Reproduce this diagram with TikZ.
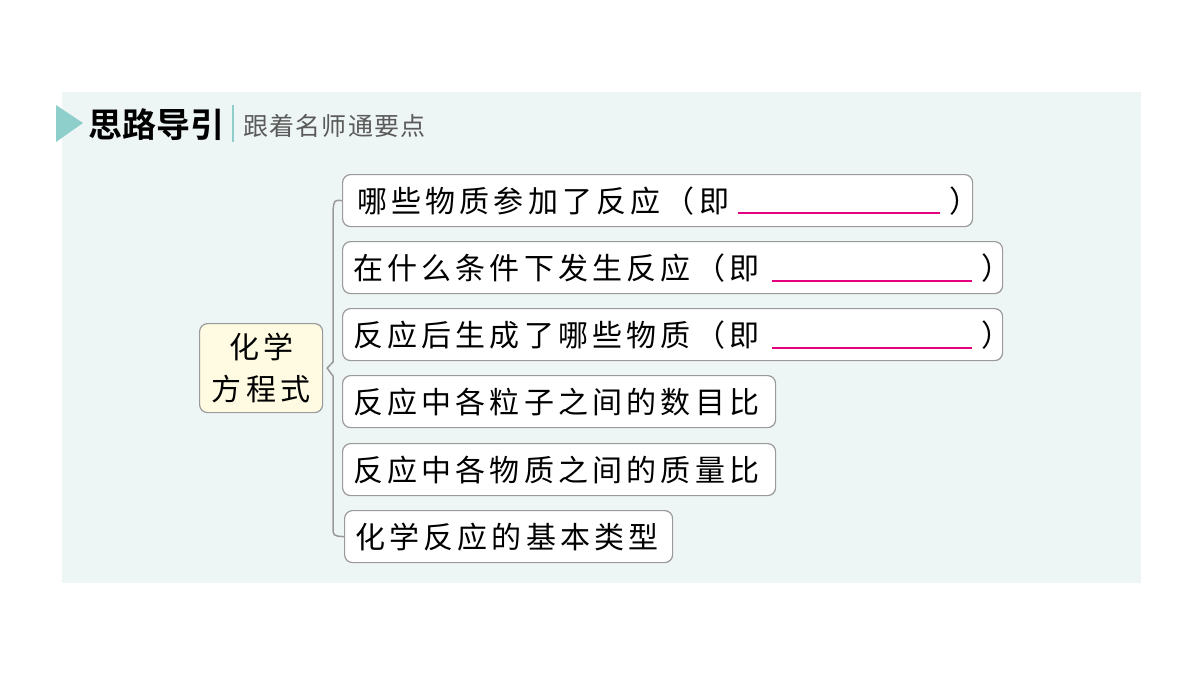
\documentclass[tikz,border=0pt]{standalone}
\usepackage{fontspec}
\newfontfamily\cjk{Noto Sans CJK SC}
\newfontfamily\cjksp[LetterSpace=14]{Noto Sans CJK SC}
\newfontfamily\cjkhd[LetterSpace=5]{Noto Sans CJK SC}
\newfontfamily\cjkbold{Noto Sans CJK SC Bold}
\definecolor{panel}{HTML}{EEF6F5}
\definecolor{teal}{HTML}{8ECFCB}
\definecolor{boxline}{HTML}{9A9A9A}
\definecolor{cream}{HTML}{FEFBE2}
\definecolor{blank}{HTML}{E4007F}
\definecolor{subgray}{HTML}{5A5A5A}
\tikzset{
  itembox/.style={draw=boxline, line width=1.2pt, fill=white, rounded corners=8pt,
    minimum height=52pt, inner sep=0pt, anchor=north west},
  itemtxt/.style={anchor=west, inner sep=0pt, font=\cjksp\fontsize{30}{30}\selectfont},
  brk/.style={draw=boxline, line width=1.5pt},
  blankln/.style={draw=blank, line width=2.2pt},
}
\begin{document}
\begin{tikzpicture}[x=1pt,y=-1pt]
\useasboundingbox (0,0) rectangle (1200,675);
\fill[white] (0,0) rectangle (1200,675);
\fill[panel] (62,92) rectangle (1141,583);
% header
\fill[teal] (56,105) -- (83,123) -- (56,142) -- cycle;
\node[anchor=west, inner sep=0pt, font=\cjkbold\fontsize{34}{34}\selectfont] (hd) at (88,125) {思路导引};
\coordinate (v1) at (233,105);
\coordinate (v2) at (233,142);
\draw[teal, line width=2pt] (v1) -- (v2);
\node[anchor=west, inner sep=0pt, text=subgray, font=\cjkhd\fontsize{25}{25}\selectfont] (sub) at (243,126) {跟着名师通要点};
% center node
\node[draw=boxline, line width=1.2pt, fill=cream, rounded corners=8pt, anchor=north west,
  minimum width=123pt, minimum height=89pt, inner sep=0pt, align=center,
  font=\cjksp\fontsize{30}{42}\selectfont] (c) at (199,323) {化学\\方程式};
% items
\node[itembox, minimum width=630pt] (b1) at (342,174) {};
\node[itemtxt] (t1) at ([xshift=15pt]b1.west) {哪些物质参加了反应（即\hspace{220pt}）};
\node[itembox, minimum width=660pt] (b2) at (342,241) {};
\node[itemtxt] (t2) at ([xshift=11pt]b2.west) {在什么条件下发生反应（即\hspace{222pt}）};
\node[itembox, minimum width=660pt] (b3) at (342,308) {};
\node[itemtxt] (t3) at ([xshift=11pt]b3.west) {反应后生成了哪些物质（即\hspace{222pt}）};
\node[itembox, minimum width=433pt] (b4) at (342,375) {};
\node[itemtxt] (t4) at ([xshift=11pt]b4.west) {反应中各粒子之间的数目比};
\node[itembox, minimum width=433pt] (b5) at (342,443) {};
\node[itemtxt] (t5) at ([xshift=11pt]b5.west) {反应中各物质之间的质量比};
\node[itembox, minimum width=328pt] (b6) at (344,510) {};
\node[itemtxt] (t6) at ([xshift=11pt]b6.west) {化学反应的基本类型};
% answer blanks
\draw[blankln] ([shift={(396,39)}]b1.north west) -- ([shift={(598,39)}]b1.north west);
\draw[blankln] ([shift={(430,40)}]b2.north west) -- ([shift={(630,40)}]b2.north west);
\draw[blankln] ([shift={(430,40)}]b3.north west) -- ([shift={(630,40)}]b3.north west);
% bracket
\coordinate (k1) at (333,211);
\coordinate (k2) at (333,362);
\coordinate (k3) at (333,376);
\coordinate (k4) at (333,526);
\draw[brk] (b1.west) .. controls (334,200) .. (k1) -- (k2) -- ([xshift=4pt]c.east) -- (k3) -- (k4) .. controls (333,536) .. (b6.west);
\end{tikzpicture}
\end{document}
